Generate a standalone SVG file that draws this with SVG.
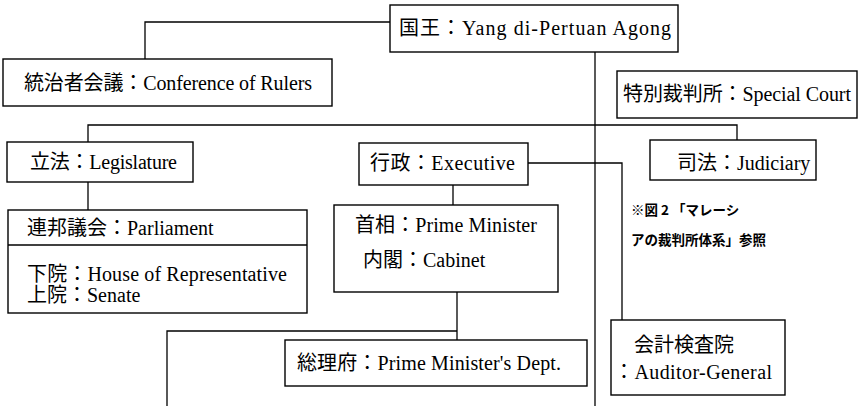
<svg xmlns="http://www.w3.org/2000/svg" width="861" height="406" viewBox="0 0 861 406">
<style>
.box{fill:#fff;stroke:#000;stroke-width:1.4}
.ln{fill:none;stroke:#000;stroke-width:1.3}
.t{font-family:"Liberation Serif","Noto Sans CJK JP",serif;font-size:20px;fill:#000}
.n{font-family:"Noto Sans CJK JP",sans-serif;font-size:13.5px;font-weight:bold;fill:#000}
</style>
<rect width="861" height="406" fill="#fff"/>
<g id="connectors">
<polyline class="ln" points="145,59 145,22 390,22"/>
<line class="ln" x1="595" y1="52" x2="595" y2="406"/>
<polyline class="ln" points="88,142 88,125 737,125 737,140"/>
<line class="ln" x1="88" y1="182" x2="88" y2="210"/>
<line class="ln" x1="453" y1="185" x2="453" y2="205"/>
<polyline class="ln" points="528,163 622,163 622,320"/>
<line class="ln" x1="457" y1="292" x2="457" y2="340"/>
<polyline class="ln" points="457,331 167,331 167,406"/>
</g>
<g id="king">
<rect class="box" x="390" y="5" width="288" height="47"/>
<text class="t" x="399" y="35" textLength="272" lengthAdjust="spacing">国王：Yang di-Pertuan Agong</text>
</g>
<g id="rulers">
<rect class="box" x="3" y="59" width="329" height="47"/>
<text class="t" x="24" y="90" textLength="288" lengthAdjust="spacing">統治者会議：Conference of Rulers</text>
</g>
<g id="special-court">
<rect class="box" x="617" y="71" width="240" height="47"/>
<text class="t" x="623" y="101" textLength="228" lengthAdjust="spacing">特別裁判所：Special Court</text>
</g>
<g id="legislature">
<rect class="box" x="7" y="142" width="186" height="40"/>
<text class="t" x="30" y="169" textLength="147" lengthAdjust="spacing">立法：Legislature</text>
</g>
<g id="executive">
<rect class="box" x="359" y="143" width="169" height="42"/>
<text class="t" x="370" y="170" textLength="145" lengthAdjust="spacing">行政：Executive</text>
</g>
<g id="judiciary">
<rect class="box" x="650" y="140" width="166" height="40"/>
<text class="t" x="677" y="170">司法：Judiciary</text>
</g>
<g id="parliament">
<rect class="box" x="8" y="210" width="299" height="103"/>
<line class="ln" x1="8" y1="245" x2="307" y2="245"/>
<text class="t" x="27" y="235">連邦議会：Parliament</text>
<text class="t" x="27" y="281" textLength="260" lengthAdjust="spacing">下院：House of Representative</text>
<text class="t" x="27" y="302">上院：Senate</text>
</g>
<g id="prime-minister">
<rect class="box" x="334" y="205" width="224" height="87"/>
<text class="t" x="355" y="232" textLength="182" lengthAdjust="spacing">首相：Prime Minister</text>
<text class="t" x="363" y="267">内閣：Cabinet</text>
</g>
<g id="note">
<text class="n" x="631" y="215">※図 2 「マレーシ</text>
<text class="n" x="631" y="245">アの裁判所体系」参照</text>
</g>
<g id="pm-dept">
<rect class="box" x="285" y="340" width="302" height="46"/>
<text class="t" x="297" y="370" textLength="264" lengthAdjust="spacing">総理府：Prime Minister's Dept.</text>
</g>
<g id="auditor">
<rect class="box" x="611" y="320" width="174" height="75"/>
<text class="t" x="634" y="352">会計検査院</text>
<text class="t" x="614" y="379" textLength="158" lengthAdjust="spacing">：Auditor-General</text>
</g>
</svg>
